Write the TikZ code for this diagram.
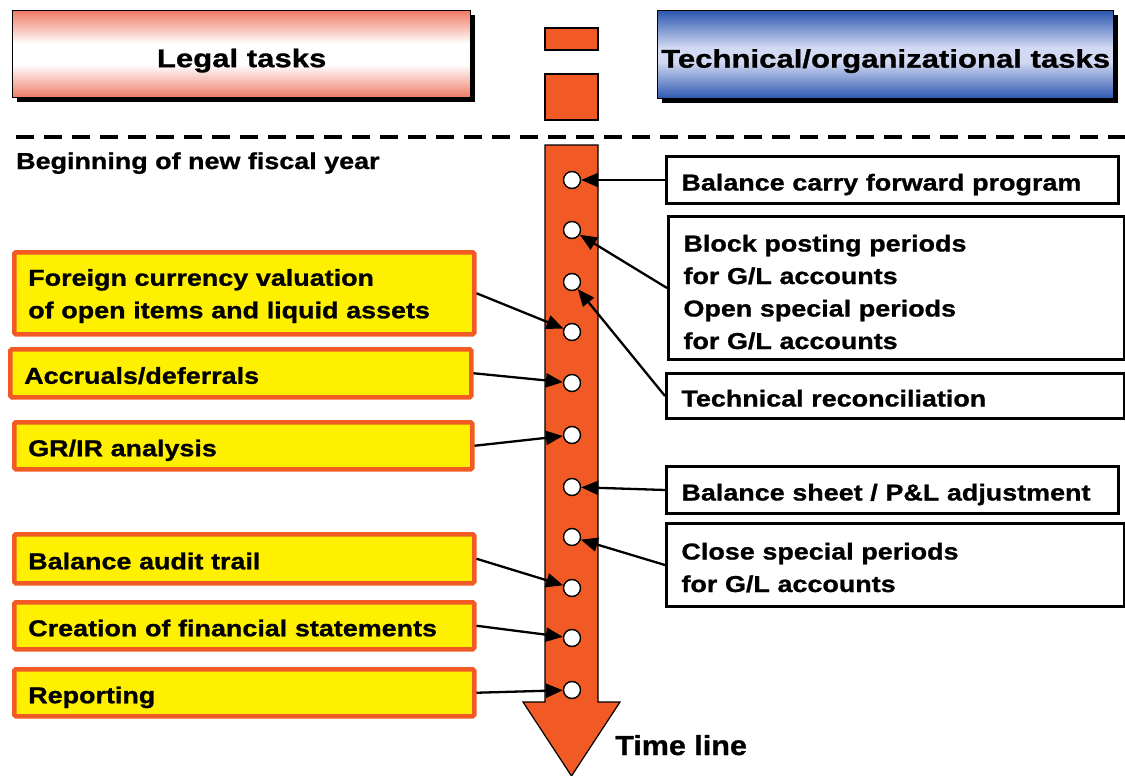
\documentclass[tikz,border=0pt]{standalone}
\usepackage{fontspec}
\setmainfont{Liberation Sans Bold}[FakeStretch=1.17, FakeBold=1]
\newfontfamily\hdrfont{Liberation Sans Bold}[FakeStretch=1.22, FakeBold=1]
\newfontfamily\tlfont{Liberation Sans Bold}[FakeStretch=1.11, FakeBold=1]
\usetikzlibrary{arrows.meta,shadows}
\definecolor{orng}{HTML}{F15A24}
\definecolor{yel}{HTML}{FFF000}
\definecolor{salmon}{HTML}{EE7A64}
\definecolor{dblue}{HTML}{2C57B0}
\definecolor{lblue}{HTML}{D2D9F2}
\pgfdeclareverticalshading{legalshade}{100bp}{color(0bp)=(salmon); color(25bp)=(salmon); color(44bp)=(white); color(56bp)=(white); color(75bp)=(salmon); color(100bp)=(salmon)}
\pgfdeclareverticalshading{techshade}{100bp}{color(0bp)=(dblue); color(25bp)=(dblue); color(46bp)=(lblue); color(54bp)=(lblue); color(75bp)=(dblue); color(100bp)=(dblue)}
\tikzset{
  body/.style={font=\fontsize{23}{32.5}\selectfont},
  one/.style={text height=21pt, text depth=0pt},
  hdr/.style={draw=black, line width=1.3pt, anchor=north west, inner sep=0pt,
    font=\hdrfont\fontsize{25.5}{28}\selectfont, text height=26pt, text depth=0pt,
    drop shadow={shadow xshift=4pt, shadow yshift=-4pt, opacity=1, fill=black}},
  lbox/.style={body, draw=orng, fill=yel, line width=4.5pt, rounded corners=1.5pt,
    anchor=north west, align=left, inner xsep=14pt, inner ysep=0pt},
  rbox/.style={body, draw=black, fill=white, line width=3pt,
    anchor=north west, align=left, inner xsep=15pt, inner ysep=0pt},
  dot/.style={circle, draw=black, line width=1.4pt, fill=white, minimum size=17pt, inner sep=0pt},
  con/.style={line width=2.3pt, -{Triangle[length=17pt,width=14pt]}},
  obar/.style={draw=black, line width=1.2pt, fill=orng}
}
\begin{document}
\begin{tikzpicture}[x=1pt,y=-1pt]
\useasboundingbox (0,0) rectangle (1125,776);
% headers
\node[hdr, shading=legalshade, minimum width=458pt, minimum height=87pt] (legal) at (12,10) {Legal tasks};
\node[hdr, shading=techshade, minimum width=456pt, minimum height=88pt] (tech) at (657,10) {Technical/organizational tasks};
\draw[obar] (545,28) rectangle (598,50);
\draw[obar] (545,74) rectangle (598,120);
% dashed line
\draw[line width=3.5pt, dash pattern=on 18pt off 10pt] (16,137) -- (1125,137);
\node[body, anchor=base west, inner sep=0pt] (bny) at (16,169) {Beginning of new fiscal year};
% time arrow
\draw[obar] (545,145) -- (598,145) -- (598,702) -- (620,702) -- (571.5,776) -- (523,702) -- (545,702) -- cycle;
\node[font=\tlfont\fontsize{27.5}{30}\selectfont, anchor=base west, inner sep=0pt] (tl) at (615,755) {Time line};
% circles
\foreach \i/\y in {1/180,2/230,3/282,4/332,5/383,6/435,7/487,8/537,9/588,10/638,11/690}
  \node[dot] (c\i) at (572,\y) {};
% right boxes
\node[rbox, one, minimum width=452pt, minimum height=47pt, text width=422pt] (b1) at (665,155) {Balance carry forward program};
\node[rbox, text height=16pt, text depth=89pt, minimum width=456pt, minimum height=143pt, text width=426pt] (b2) at (667,215) {Block posting periods\\for G/L accounts\\Open special periods\\for G/L accounts};
\node[rbox, one, minimum width=458pt, minimum height=45pt, text width=428pt] (b3) at (665,372) {Technical reconciliation};
\node[rbox, one, minimum width=452pt, minimum height=47pt, text width=422pt] (b4) at (665,465) {Balance sheet / P\&L adjustment};
\node[rbox, text height=16pt, text depth=27pt, minimum width=458pt, minimum height=83pt, text width=428pt] (b5) at (665,522) {Close special periods\\for G/L accounts};
% left boxes
\node[lbox, text height=16pt, text depth=31pt, minimum width=460pt, minimum height=82pt, text width=432pt] (l1) at (12,250) {Foreign currency valuation\\of open items and liquid assets};
\node[lbox, one, minimum width=461pt, minimum height=48pt, text width=433pt] (l2) at (8,347) {Accruals/deferrals};
\node[lbox, one, minimum width=458pt, minimum height=47pt, text width=430pt] (l3) at (12,420) {GR/IR analysis};
\node[lbox, one, minimum width=460pt, minimum height=49pt, text width=432pt] (l4) at (12,532) {Balance audit trail};
\node[lbox, one, minimum width=460pt, minimum height=47pt, text width=432pt] (l5) at (12,600) {Creation of financial statements};
\node[lbox, one, minimum width=460pt, minimum height=47pt, text width=432pt] (l6) at (12,667) {Reporting};
% connectors
\draw[con] (b1.west) -- (c1);
\draw[con] (b2.west) -- (c2);
\draw[con] (b3.west) -- (c3);
\draw[con] (b4.west) -- (c7);
\draw[con] (b5.west) -- (c8);
\draw[con] (l1.east) -- (c4);
\draw[con] (l2.east) -- (c5);
\draw[con] (l3.east) -- (c6);
\draw[con] (l4.east) -- (c9);
\draw[con] (l5.east) -- (c10);
\draw[con] (l6.east) -- (c11);
\end{tikzpicture}
\end{document}
